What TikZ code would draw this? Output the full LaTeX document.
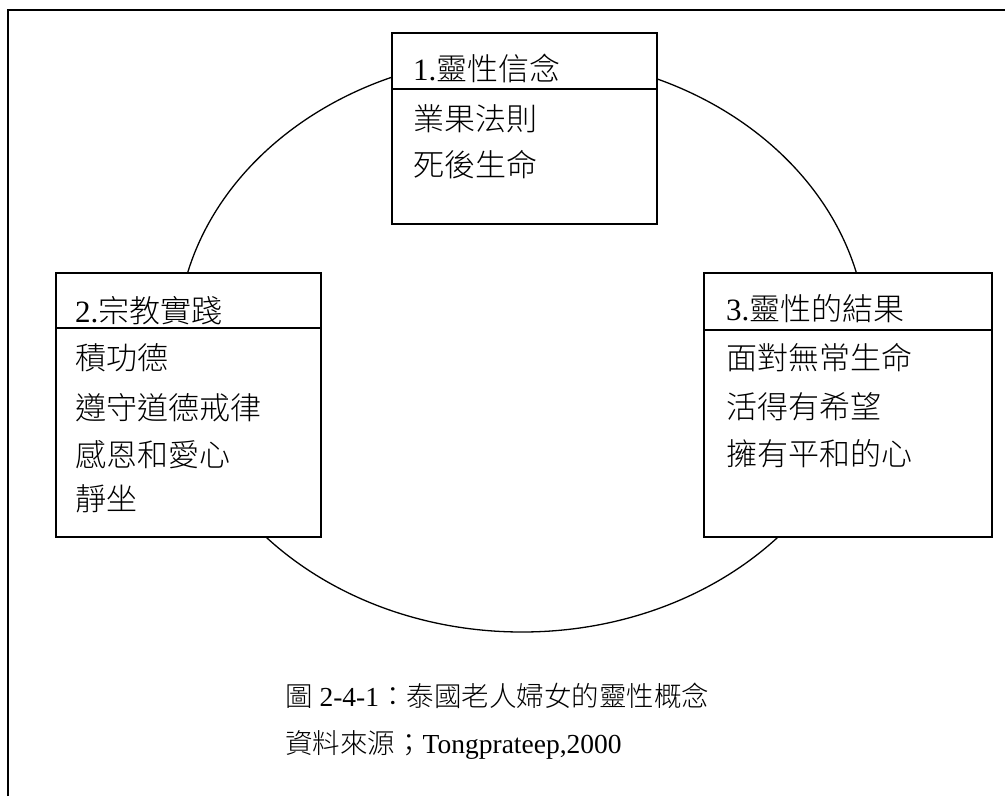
\documentclass[tikz,border=0pt]{standalone}
\usepackage{fontspec}
\setmainfont{Liberation Serif}
\newfontfamily\cjk{Noto Sans CJK TC}[UprightFont={* Light}]
\begin{document}
\begin{tikzpicture}[x=1pt,y=-1pt,
  boxline/.style={draw=black,line width=1.6pt,fill=white},
  bt/.style={anchor=base west,inner sep=0pt,font=\fontsize{31}{31}\selectfont},
  ct/.style={anchor=base west,inner sep=0pt,font=\fontsize{27.5}{27.5}\selectfont}]
\useasboundingbox (0,0) rectangle (1005,796);
% frame
\draw[line width=2pt] (8,796) -- (8,10) -- (1005,10);
% ellipse
\draw[line width=1.3pt] (522,344) ellipse [x radius=345, y radius=288];
% box 1
\draw[boxline] (392,33) rectangle (657,224);
\draw[line width=1.6pt] (392,89) -- (657,89);
\node[bt] (h1) at (413,80) {1.{\cjk 靈性信念}};
\node[bt] (a1) at (413,130) {\cjk 業果法則};
\node[bt] (a2) at (413,176) {\cjk 死後生命};
% box 2
\draw[boxline] (56,273) rectangle (321,537);
\draw[line width=1.6pt] (56,328) -- (321,328);
\node[bt] (h2) at (75,322) {2.{\cjk 宗教實踐}};
\node[bt] (b1) at (75,369) {\cjk 積功德};
\node[bt] (b2) at (75,419) {\cjk 遵守道德戒律};
\node[bt] (b3) at (75,466) {\cjk 感恩和愛心};
\node[bt] (b4) at (75,510) {\cjk 靜坐};
% box 3
\draw[boxline] (704,273) rectangle (992,537);
\draw[line width=1.6pt] (704,330) -- (992,330);
\node[bt] (h3) at (726,320) {3.{\cjk 靈性的結果}};
\node[bt] (c1) at (726,369) {\cjk 面對無常生命};
\node[bt] (c2) at (726,418) {\cjk 活得有希望};
\node[bt] (c3) at (726,465) {\cjk 擁有平和的心};
% caption
\node[ct] (cap1) at (285,706) {{\cjk 圖} 2-4-1{\cjk ：泰國老人婦女的靈性概念}};
\node[ct] (cap2) at (285,753) {{\cjk 資料來源；}Tongprateep,2000};
\end{tikzpicture}
\end{document}
